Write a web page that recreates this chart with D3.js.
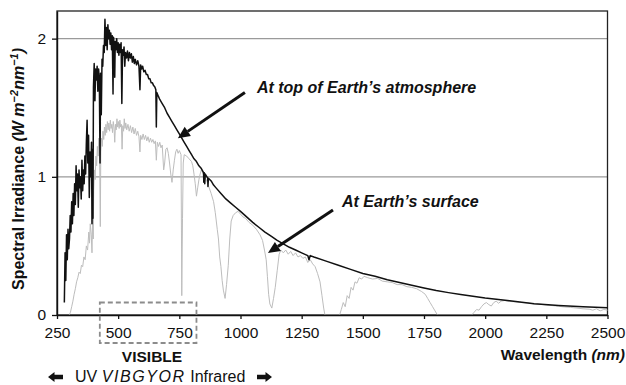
<!DOCTYPE html>
<html>
<head>
<meta charset="utf-8">
<script src="https://cdn.jsdelivr.net/npm/d3@7"></script>
<style>
body { margin: 0; background: #fff; }
svg { display: block; font-family: "Liberation Sans", Arial, sans-serif; }
</style>
</head>
<body>
<div id="chart"></div>
<script>
// [wavelength nm, irradiance W m-2 nm-1]
const toaSpectrum = [
  [280,0.09],[283,0.45],[286,0.25],[289,0.58],[292,0.40],[295,0.62],[298,0.48],[301,0.55],[304,0.72],[307,0.60],
  [310,0.82],[313,0.66],[316,0.88],[319,0.72],[322,0.95],[325,0.80],[328,1.08],[331,0.90],[334,1.02],[337,0.78],
  [340,1.05],[343,0.92],[346,1.00],[349,0.84],[352,1.12],[355,0.90],[358,1.05],[361,0.95],[364,1.15],[367,1.02],
  [370,1.25],[373,1.41],[376,1.10],[379,1.30],[382,0.85],[385,1.18],[388,1.00],[391,1.25],[393,0.66],[396,1.20],
  [397,0.70],[399,1.65],[402,1.82],[405,1.55],[408,1.78],[411,1.70],[414,1.80],[417,1.62],[420,1.78],[423,1.70],
  [426,1.10],[428,1.75],[431,1.45],[434,1.85],[437,1.80],[440,1.95],[443,1.90],[446,2.14],[449,1.95],[452,2.08],
  [455,1.92],[458,2.10],[461,2.00],[464,2.06],[467,1.96],[470,2.04],[473,1.92],[476,2.02],[479,1.60],[481,2.01],
  [484,1.95],[486,1.72],[488,1.98],[491,1.92],[494,2.00],[497,1.90],[500,1.97],[503,1.88],[506,1.96],[509,1.90],
  [512,1.97],[515,1.53],[518,1.92],[521,1.88],[524,1.94],[527,1.80],[530,1.90],[534,1.86],[538,1.91],[542,1.84],
  [546,1.90],[550,1.86],[554,1.89],[558,1.83],[562,1.87],[566,1.82],[570,1.85],[575,1.81],[580,1.84],[585,1.80],
  [589,1.63],[592,1.81],[596,1.78],[600,1.80],[605,1.76],[610,1.77],[615,1.74],[620,1.74],[625,1.71],[630,1.71],
  [635,1.68],[640,1.68],[645,1.66],[650,1.65],[654,1.63],[656,1.36],[658,1.61],[665,1.58],[670,1.56],[680,1.53],
  [690,1.50],[700,1.46],[710,1.43],[720,1.40],[730,1.37],[740,1.34],[750,1.31],[760,1.28],[770,1.25],[780,1.22],
  [790,1.19],[800,1.16],[810,1.13],[820,1.11],[830,1.08],[840,1.06],[849,1.03],[850,0.96],[852,1.03],[854,0.95],
  [856,1.02],[866,0.99],[867,0.93],[869,0.99],[880,0.97],[890,0.94],[900,0.92],[920,0.88],[940,0.84],[960,0.81],
  [980,0.78],[1000,0.75],[1025,0.71],[1050,0.67],[1075,0.635],[1100,0.60],[1125,0.57],[1150,0.54],[1175,0.515],[1200,0.49],
  [1225,0.47],[1250,0.45],[1275,0.43],[1280,0.40],[1285,0.43],[1300,0.42],[1350,0.39],[1400,0.36],[1450,0.33],[1500,0.30],
  [1550,0.28],[1600,0.255],[1650,0.235],[1700,0.215],[1750,0.195],[1800,0.177],[1850,0.162],[1900,0.148],[1950,0.135],[2000,0.123],
  [2100,0.103],[2200,0.082],[2300,0.069],[2400,0.059],[2500,0.052]
];

const surfaceSpectrum = [
  [300,0.0],[305,0.02],[310,0.06],[315,0.10],[320,0.15],[325,0.19],[330,0.24],[335,0.27],[340,0.31],[345,0.30],
  [350,0.36],[355,0.35],[360,0.42],[365,0.40],[370,0.50],[375,0.47],[380,0.60],[383,0.52],[386,0.66],[390,0.58],
  [393,0.45],[396,0.75],[398,0.55],[400,0.90],[403,1.05],[406,0.98],[409,1.15],[412,1.08],[415,1.22],[418,1.15],
  [421,1.28],[424,1.20],[427,0.64],[429,1.18],[432,1.28],[435,1.22],[438,1.33],[441,1.27],[444,1.36],[447,1.30],
  [450,1.38],[453,1.32],[456,1.40],[459,1.34],[462,1.39],[465,1.33],[468,1.41],[471,1.35],[474,1.38],[477,1.32],
  [480,1.40],[483,1.36],[486,1.25],[489,1.38],[492,1.34],[495,1.42],[498,1.36],[501,1.40],[504,1.35],[507,1.41],
  [510,1.36],[513,1.38],[516,1.20],[519,1.37],[522,1.33],[525,1.42],[528,1.35],[531,1.39],[535,1.34],[540,1.38],
  [545,1.33],[550,1.37],[555,1.32],[560,1.36],[565,1.31],[570,1.35],[575,1.30],[580,1.33],[585,1.29],[589,1.18],
  [592,1.30],[597,1.27],[602,1.31],[607,1.27],[612,1.30],[617,1.26],[622,1.29],[627,1.25],[632,1.28],[637,1.25],
  [642,1.27],[647,1.24],[652,1.26],[656,1.12],[660,1.25],[665,1.22],[670,1.25],[675,1.21],[680,1.23],[686,1.05],
  [690,1.10],[695,1.20],[700,1.21],[705,1.17],[710,1.10],[715,1.02],[720,0.96],[725,1.05],[730,1.12],[735,1.18],
  [740,1.20],[745,1.17],[750,1.19],[757,1.16],[760,0.14],[763,0.70],[766,1.10],[770,1.16],[780,1.15],[790,1.13],
  [800,1.11],[805,1.08],[810,1.02],[815,0.95],[820,0.86],[825,0.92],[830,0.98],[835,1.02],[840,1.05],[850,1.01],
  [860,0.98],[870,0.93],[880,0.88],[890,0.82],[897,0.74],[905,0.62],[910,0.55],[915,0.42],[920,0.35],[925,0.25],
  [930,0.18],[937,0.12],[943,0.22],[950,0.36],[956,0.55],[962,0.68],[970,0.72],[980,0.74],[990,0.75],[1000,0.73],
  [1010,0.71],[1020,0.70],[1035,0.67],[1050,0.65],[1065,0.62],[1080,0.58],[1090,0.54],[1098,0.47],[1105,0.40],[1110,0.28],
  [1115,0.15],[1120,0.08],[1128,0.05],[1135,0.12],[1142,0.20],[1150,0.32],[1158,0.44],[1165,0.47],[1175,0.45],[1185,0.47],
  [1195,0.44],[1205,0.46],[1215,0.43],[1225,0.45],[1235,0.42],[1245,0.43],[1255,0.41],[1265,0.42],[1275,0.38],[1285,0.40],
  [1295,0.37],[1305,0.35],[1315,0.30],[1325,0.24],[1333,0.14],[1340,0.05],[1345,0.0],[1405,0.0],[1412,0.04],[1420,0.09],
  [1428,0.06],[1436,0.14],[1444,0.12],[1452,0.20],[1460,0.18],[1468,0.24],[1476,0.23],[1485,0.27],[1495,0.26],[1505,0.28],
  [1520,0.27],[1540,0.26],[1560,0.265],[1580,0.245],[1600,0.24],[1620,0.235],[1640,0.22],[1660,0.22],[1680,0.205],[1700,0.20],
  [1720,0.19],[1740,0.17],[1755,0.15],[1765,0.12],[1775,0.09],[1785,0.06],[1795,0.03],[1805,0.0],[1945,0.0],[1955,0.02],
  [1965,0.04],[1975,0.035],[1985,0.06],[1995,0.08],[2005,0.09],[2015,0.075],[2025,0.065],[2035,0.09],[2045,0.10],[2055,0.085],
  [2065,0.10],[2080,0.105],[2100,0.098],[2125,0.095],[2150,0.09],[2175,0.088],[2200,0.08],[2225,0.078],[2250,0.072],[2275,0.068],
  [2300,0.063],[2325,0.058],[2350,0.055],[2375,0.05],[2400,0.045],[2425,0.042],[2440,0.035],[2455,0.045],[2470,0.03],[2485,0.04],
  [2500,0.035]
];

const xTicks = [250, 500, 750, 1000, 1250, 1500, 1750, 2000, 2250, 2500];
const yTicks = [0, 1, 2];
const gridValues = [1, 2];
const visibleBand = [425, 820];

// annotations: text position and arrow tail/tip, in data units
const annotations = [
  {label: "At top of Earth\u2019s atmosphere", tx: 1067, ty: 1.605, from: [1018, 1.61], to: [744, 1.28]},
  {label: "At Earth\u2019s surface", tx: 1415, ty: 0.78, from: [1378, 0.76], to: [1112, 0.448]}
];

const width = 626, height = 385;
const plotLeft = 57, plotRight = 607.5, plotTop = 11, plotBottom = 315;

const svg = d3.select("#chart").append("svg")
    .attr("width", width)
    .attr("height", height);

const x = d3.scaleLinear().domain([250, 2500]).range([plotLeft, plotRight]);
const y = d3.scaleLinear().domain([0, 2.2]).range([plotBottom, plotTop]);

// gridlines
svg.append("g").selectAll("line")
    .data(gridValues)
    .enter().append("line")
    .attr("x1", plotLeft).attr("x2", plotRight)
    .attr("y1", d => y(d)).attr("y2", d => y(d))
    .attr("stroke", "#9a9a9a")
    .attr("stroke-width", 1.2);

// frame
svg.append("rect")
    .attr("x", plotLeft).attr("y", plotTop)
    .attr("width", plotRight - plotLeft).attr("height", plotBottom - plotTop)
    .attr("fill", "none")
    .attr("stroke", "#222")
    .attr("stroke-width", 1.3);

const line = d3.line()
    .x(d => x(d[0]))
    .y(d => y(d[1]));

svg.append("path")
    .datum(surfaceSpectrum)
    .attr("fill", "none")
    .attr("stroke", "#bdbdbd")
    .attr("stroke-width", 1)
    .attr("d", line);

svg.append("path")
    .datum(toaSpectrum)
    .attr("fill", "none")
    .attr("stroke", "#111")
    .attr("stroke-width", 1.5)
    .attr("stroke-linejoin", "round")
    .attr("d", line);

// axes
const yAxis = svg.append("g")
    .attr("transform", `translate(${plotLeft},0)`)
    .call(d3.axisLeft(y).tickValues(yTicks).tickSize(5).tickSizeOuter(0).tickPadding(6).tickFormat(d3.format("d")));

const xAxis = svg.append("g")
    .attr("transform", `translate(0,${plotBottom})`)
    .call(d3.axisBottom(x).tickValues(xTicks).tickSize(4).tickSizeOuter(0).tickPadding(8).tickFormat(d3.format("d")));

[yAxis, xAxis].forEach(g => {
    g.select(".domain").attr("stroke", "#111").attr("stroke-width", 1.4);
    g.selectAll(".tick line").attr("stroke", "#111").attr("stroke-width", 1.3);
    g.selectAll(".tick text")
        .attr("fill", "#111")
        .style("font-family", "'Liberation Sans', Arial, sans-serif")
        .style("font-size", "15.5px");
});

// y axis title
const ylab = svg.append("text")
    .attr("transform", `translate(24,${(plotTop + plotBottom) / 2 + 6}) rotate(-90)`)
    .attr("text-anchor", "middle")
    .attr("fill", "#111")
    .style("font-size", "16px")
    .style("font-weight", "bold");
ylab.append("tspan").text("Spectral Irradiance ");
ylab.append("tspan").style("font-style", "italic").text("(W m");
ylab.append("tspan").style("font-style", "italic").style("font-size", "11px").attr("dy", -6).text("\u22122");
ylab.append("tspan").style("font-style", "italic").attr("dy", 6).text("nm");
ylab.append("tspan").style("font-style", "italic").style("font-size", "11px").attr("dy", -6).text("\u22121");
ylab.append("tspan").style("font-style", "italic").attr("dy", 6).text(")");

// x axis title
const xlab = svg.append("text")
    .attr("x", 625).attr("y", 360)
    .attr("text-anchor", "end")
    .attr("fill", "#111")
    .style("font-size", "15.5px")
    .style("font-weight", "bold");
xlab.append("tspan").text("Wavelength ");
xlab.append("tspan").style("font-style", "italic").text("(nm)");

// visible band box
svg.append("rect")
    .attr("x", x(visibleBand[0]))
    .attr("y", plotBottom - 12.5)
    .attr("width", x(visibleBand[1]) - x(visibleBand[0]))
    .attr("height", 40.5)
    .attr("fill", "none")
    .attr("stroke", "#8c8c8c")
    .attr("stroke-width", 1.8)
    .attr("stroke-dasharray", "5,3");

svg.append("text")
    .attr("x", 152).attr("y", 362)
    .attr("text-anchor", "middle")
    .attr("fill", "#111")
    .style("font-size", "15.5px")
    .style("font-weight", "bold")
    .text("VISIBLE");

const band = svg.append("text")
    .attr("x", 75).attr("y", 382)
    .attr("fill", "#111")
    .style("font-size", "16px");
band.append("tspan").text("UV ");
band.append("tspan").style("font-style", "italic").style("letter-spacing", "1.6px").text("VIBGYOR");
band.append("tspan").text(" Infrared");

// block arrows either side of the band text
function blockArrow(tipX, cy, dir) {
    const h = 6.5, hw = 5, sw = 2.2, len = 15;
    const b = tipX + dir * h, e = tipX + dir * len;
    const pts = [[tipX, cy], [b, cy - hw], [b, cy - sw], [e, cy - sw], [e, cy + sw], [b, cy + sw], [b, cy + hw]];
    svg.append("path")
        .attr("d", "M" + pts.map(p => p.join(",")).join("L") + "Z")
        .attr("fill", "#111");
}
blockArrow(48, 377, 1);
blockArrow(272, 377, -1);

// annotations
annotations.forEach(a => {
    svg.append("text")
        .attr("x", x(a.tx)).attr("y", y(a.ty))
        .attr("fill", "#111")
        .style("font-size", "16px")
        .style("font-weight", "bold")
        .style("font-style", "italic")
        .text(a.label);

    const x1 = x(a.from[0]), y1 = y(a.from[1]);
    const x2 = x(a.to[0]), y2 = y(a.to[1]);
    const ang = Math.atan2(y2 - y1, x2 - x1);
    const L = 12, W = 5.5;
    const bx = x2 - L * Math.cos(ang), by = y2 - L * Math.sin(ang);
    svg.append("line")
        .attr("x1", x1).attr("y1", y1)
        .attr("x2", bx).attr("y2", by)
        .attr("stroke", "#111")
        .attr("stroke-width", 3);
    svg.append("path")
        .attr("d", `M${x2},${y2}L${bx + W * Math.sin(ang)},${by - W * Math.cos(ang)}L${bx - W * Math.sin(ang)},${by + W * Math.cos(ang)}Z`)
        .attr("fill", "#111");
});
</script>
</body>
</html>
